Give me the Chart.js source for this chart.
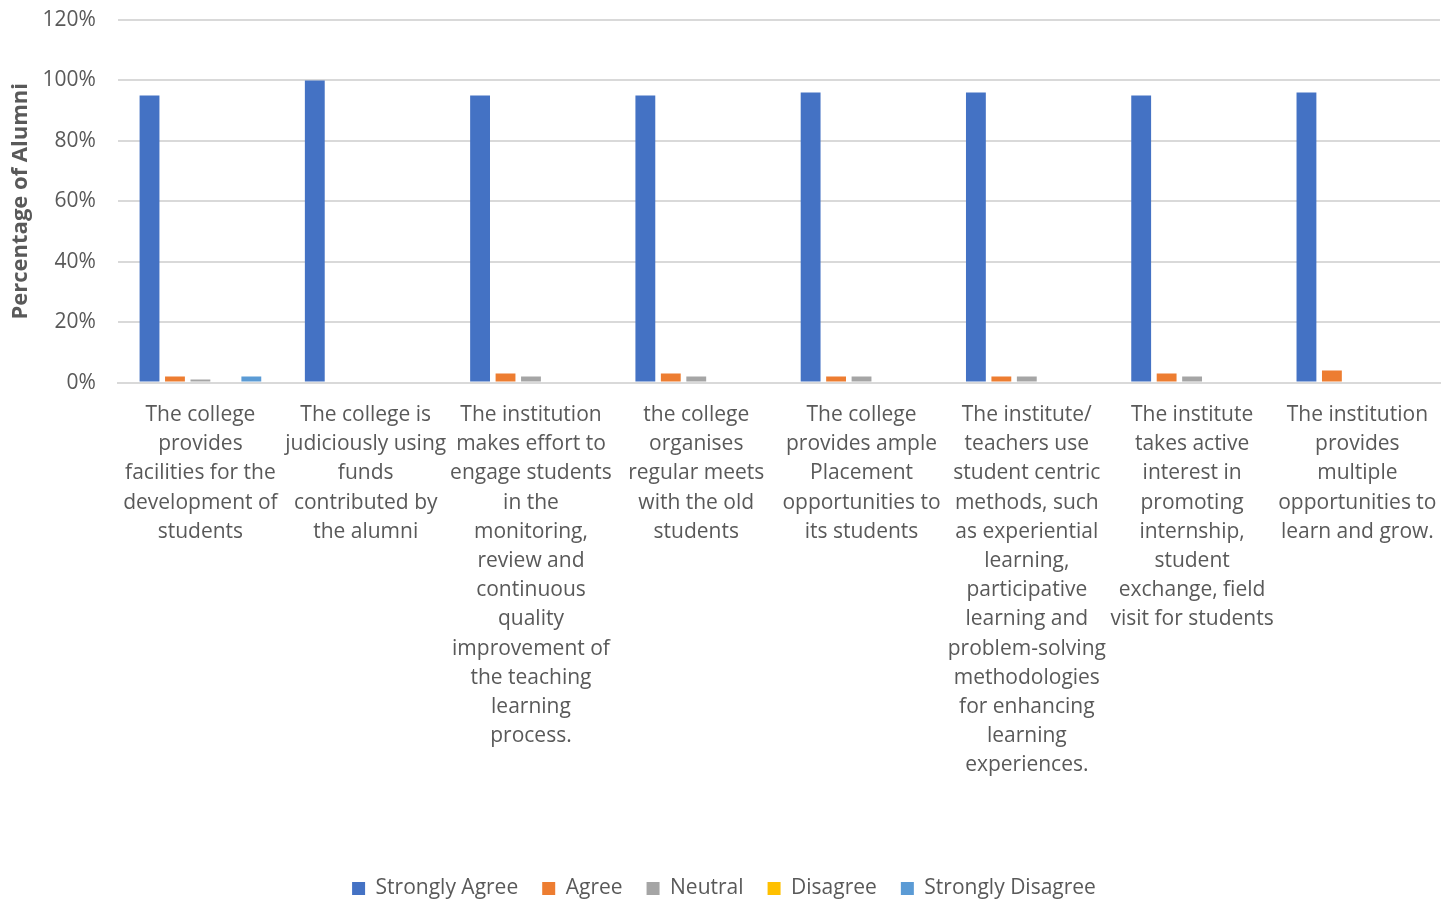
<!DOCTYPE html>
<html>
<head>
<meta charset="utf-8">
<script src="https://cdn.jsdelivr.net/npm/chart.js@4.4.1/dist/chart.umd.min.js"></script>
<style>
  html, body { margin: 0; padding: 0; background: #fff; }
  #wrap { width: 1454px; height: 899px; }
</style>
</head>
<body>
<div id="wrap"><canvas id="alumniChart"></canvas></div>
<script>
const categories = [
  ["The college", "provides", "facilities for the", "development of", "students"],
  ["The college is", "judiciously using", "funds", "contributed by", "the alumni"],
  ["The institution", "makes effort to", "engage students", "in the", "monitoring,", "review and", "continuous", "quality", "improvement of", "the teaching", "learning", "process."],
  ["the college", "organises", "regular meets", "with the old", "students"],
  ["The college", "provides ample", "Placement", "opportunities to", "its students"],
  ["The institute/", "teachers use", "student centric", "methods, such", "as experiential", "learning,", "participative", "learning and", "problem-solving", "methodologies", "for enhancing", "learning", "experiences."],
  ["The institute", "takes active", "interest in", "promoting", "internship,", "student", "exchange, field", "visit for students"],
  ["The institution", "provides", "multiple", "opportunities to", "learn and grow."]
];

const stronglyAgree = [95, 100, 95, 95, 96, 96, 95, 96];
const agree = [2, 0, 3, 3, 2, 2, 3, 4];
const neutral = [1, 0, 2, 2, 2, 2, 2, 0];
const disagree = [0, 0, 0, 0, 0, 0, 0, 0];
const stronglyDisagree = [2, 0, 0, 0, 0, 0, 0, 0];

const yTicks = [0, 20, 40, 60, 80, 100, 120];

const textGrey = '#595959';

const ctx = document.getElementById('alumniChart').getContext('2d');
new Chart(ctx, {
  type: 'bar',
  data: {
    labels: categories,
    datasets: [
      { label: 'Strongly Agree', data: stronglyAgree, backgroundColor: '#4472c4' },
      { label: 'Agree', data: agree, backgroundColor: '#ed7d31' },
      { label: 'Neutral', data: neutral, backgroundColor: '#a5a5a5' },
      { label: 'Disagree', data: disagree, backgroundColor: '#ffc000' },
      { label: 'Strongly Disagree', data: stronglyDisagree, backgroundColor: '#5b9bd5' }
    ]
  },
  options: {
    responsive: true,
    maintainAspectRatio: false,
    animation: false,
    datasets: {
      bar: { categoryPercentage: 0.77, barPercentage: 0.78 }
    },
    layout: { padding: { top: 20, right: 14, left: 8, bottom: -10 } },
    plugins: {
      tooltip: { enabled: false },
      legend: {
        position: 'bottom',
        labels: {
          color: textGrey,
          font: { family: 'Open Sans', size: 21 },
          boxWidth: 13,
          boxHeight: 13,
          padding: 24
        }
      }
    },
    scales: {
      x: {
        grid: { display: false },
        border: { color: '#d9d9d9', width: 2 },
        ticks: {
          color: textGrey,
          font: { family: 'Open Sans', size: 21, lineHeight: 1.39 },
          maxRotation: 0,
          autoSkip: false,
          padding: 10
        },
        afterFit: function(scale) { scale.height += 64; }
      },
      y: {
        min: 0,
        max: 120,
        afterBuildTicks: function(scale) {
          scale.ticks = yTicks.map(v => ({ value: v }));
        },
        afterFit: function(scale) {
          scale.paddingTop = 0;
          scale.width -= 18;
        },
        grid: { color: '#d9d9d9', lineWidth: 2, drawTicks: false },
        border: { display: false },
        ticks: {
          color: textGrey,
          font: { family: 'Open Sans', size: 21 },
          padding: 22,
          callback: v => v + '%'
        },
        title: {
          display: true,
          text: 'Percentage of Alumni',
          color: textGrey,
          font: { family: 'Open Sans', size: 22, weight: 'bold' },
          padding: { top: 0, bottom: 4 }
        }
      }
    }
  }
});
</script>
</body>
</html>
